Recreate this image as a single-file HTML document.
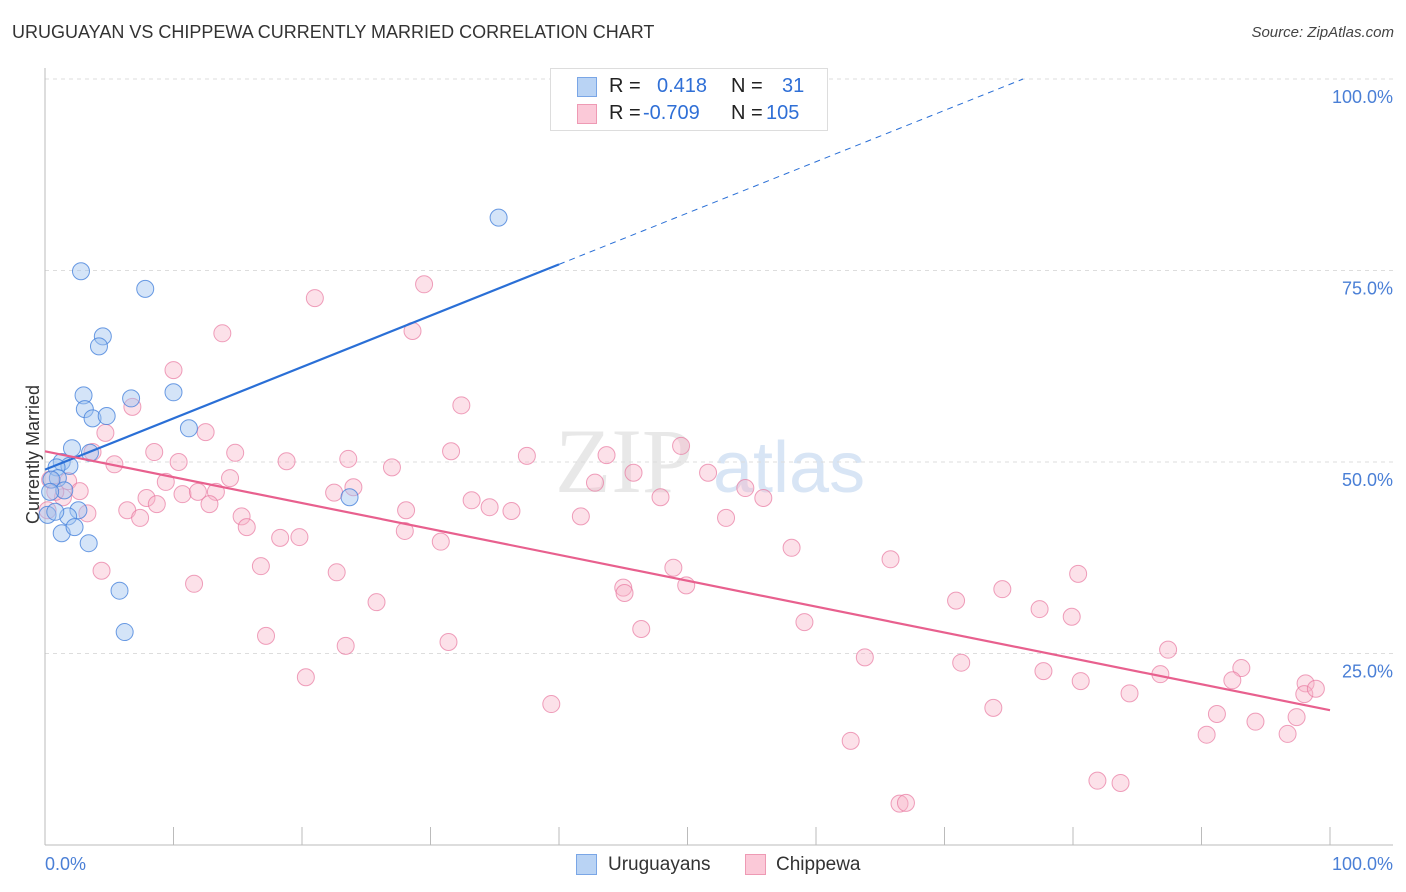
<!DOCTYPE html>
<html><head><meta charset="utf-8"><style>
body{margin:0;background:#fff;font-family:"Liberation Sans",sans-serif;}
#wrap{position:relative;width:1406px;height:892px;overflow:hidden;}
.t{position:absolute;white-space:nowrap;}
</style></head><body>
<div id="wrap">
<div class="t" style="left:12px;top:22px;font-size:18px;color:#333;">URUGUAYAN VS CHIPPEWA CURRENTLY MARRIED CORRELATION CHART</div>
<div class="t" style="right:12px;top:24px;font-size:15px;color:#444;font-style:italic;">Source: ZipAtlas.com</div>
<div class="t" style="left:-36px;top:444px;font-size:18px;color:#333;transform:rotate(-90deg);">Currently Married</div>
<svg id="plot" width="1406" height="892" style="position:absolute;left:0;top:0"></svg>
<div style="position:absolute;left:550px;top:68px;width:276px;height:61px;border:1px solid #ddd;background:#fff;font-size:20px;">
 <div style="position:absolute;left:26px;top:8px;width:18px;height:18px;background:#b9d3f4;border:1px solid #7aa6e6"></div>
 <div class="t" style="left:58px;top:6px;color:#222">R =</div><div class="t" style="left:106px;top:6px;color:#2f6fd6">0.418</div>
 <div class="t" style="left:180px;top:6px;color:#222">N =</div><div class="t" style="left:231px;top:6px;color:#2f6fd6">31</div>
 <div style="position:absolute;left:26px;top:35px;width:18px;height:18px;background:#fbc9d8;border:1px solid #ee9ab4"></div>
 <div class="t" style="left:58px;top:33px;color:#222">R =</div><div class="t" style="left:92px;top:33px;color:#2f6fd6">-0.709</div>
 <div class="t" style="left:180px;top:33px;color:#222">N =</div><div class="t" style="left:215px;top:33px;color:#2f6fd6">105</div>
</div>
<div style="position:absolute;left:576px;top:854px;font-size:19px;color:#333;">
 <div style="position:absolute;left:0;top:0px;width:19px;height:19px;background:#b9d3f4;border:1px solid #7aa6e6"></div>
 <div class="t" style="left:32px;top:0">Uruguayans</div>
 <div style="position:absolute;left:169px;top:0px;width:19px;height:19px;background:#fbc9d8;border:1px solid #ee9ab4"></div>
 <div class="t" style="left:200px;top:0">Chippewa</div>
</div>
</div>
<script>
const blueX=[35.3,2.8,7.8,4.5,4.2,3.0,6.7,10.0,3.1,3.7,4.8,11.2,2.1,3.5,1.3,1.9,0.9,1.0,0.5,1.5,23.7,0.4,2.6,1.8,1.3,2.3,3.4,5.8,6.2,0.2,0.8];
const blueY=[81.9,74.9,72.6,66.4,65.1,58.7,58.3,59.1,56.9,55.7,56.0,54.4,51.8,51.2,50.0,49.5,49.3,47.9,47.7,46.3,45.4,46.1,43.7,42.9,40.7,41.5,39.4,33.2,27.8,43.1,43.5];
const pinkX=[29.5,21.0,13.8,28.6,10.0,32.4,6.8,12.5,4.7,3.7,8.5,14.8,31.6,49.5,23.6,18.8,37.5,43.7,10.4,5.4,27.0,45.8,14.4,51.6,9.4,1.8,42.8,2.7,24.0,54.5,22.5,7.9,10.7,11.9,13.3,47.9,33.2,55.9,8.7,12.8,34.6,6.4,36.3,28.1,15.3,1.4,3.3,7.4,53.0,41.7,15.7,28.0,18.3,19.8,30.8,58.1,4.4,16.8,22.7,48.9,65.8,80.4,11.6,45.0,49.9,45.1,74.5,25.8,70.9,77.4,79.9,59.1,46.4,17.2,23.4,31.4,63.8,87.4,71.3,93.1,77.7,86.8,20.3,80.6,92.4,98.1,84.4,98.0,98.9,39.4,73.8,91.2,97.4,94.2,62.7,90.4,96.7,81.9,83.7,66.5,67.0,0.4,0.8,0.2];
const pinkY=[73.2,71.4,66.8,67.1,62.0,57.4,57.2,53.9,53.8,51.3,51.3,51.2,51.4,52.1,50.4,50.1,50.8,50.9,50.0,49.7,49.3,48.6,47.9,48.6,47.4,47.5,47.3,46.2,46.7,46.6,46.0,45.3,45.8,46.1,46.1,45.4,45.0,45.3,44.5,44.5,44.1,43.7,43.6,43.7,42.9,45.4,43.3,42.7,42.7,42.9,41.5,41.0,40.1,40.2,39.6,38.8,35.8,36.4,35.6,36.2,37.3,35.4,34.1,33.6,33.9,32.9,33.4,31.7,31.9,30.8,29.8,29.1,28.2,27.3,26.0,26.5,24.5,25.5,23.8,23.1,22.7,22.3,21.9,21.4,21.5,21.1,19.8,19.7,20.4,18.4,17.9,17.1,16.7,16.1,13.6,14.4,14.5,8.4,8.1,5.4,5.5,47.7,46.1,43.7];
const yTicks=[25,50,75,100];
const xTicks=[0,10,20,30,40,50,60,70,80,90,100];
const blueLine=[0,49.0,40,75.8,75.8,100];
const pinkLine=[0,51.4,100,17.6];
const NS='http://www.w3.org/2000/svg';
const svg=document.getElementById('plot');
const X=v=>45+v*12.85, Y=v=>845-v*7.66;
function mk(t,a){const e=document.createElementNS(NS,t);for(const k in a)e.setAttribute(k,a[k]);svg.appendChild(e);return e;}
const wm=mk('text',{x:555,y:492,'font-size':92,fill:'#e8e8e8','font-family':'Liberation Serif'});wm.textContent='ZIP';


const wm2=mk('text',{x:713,y:492,'font-size':72,fill:'#d8e5f5','font-family':'Liberation Sans'});wm2.textContent='atlas';


yTicks.forEach(v=>{const g=mk('line',{x1:45,x2:1393,y1:Y(v),y2:Y(v),stroke:'#ddd','stroke-dasharray':'4 4'});


const t=mk('text',{x:1393,y:Y(v)+24,'text-anchor':'end','font-size':18,fill:'#4a7fd6','font-family':'Liberation Sans'});t.textContent=v.toFixed(1)+'%';

});
mk('line',{x1:45,x2:45,y1:68,y2:845,stroke:'#bbb'});
const ax=mk('line',{x1:45,x2:1393,y1:845,y2:845,stroke:'#bbb'});


xTicks.forEach(v=>{const k=mk('line',{x1:X(v),x2:X(v),y1:827,y2:845,stroke:'#bbb'});

});
[[0,'start','0.0%'],[100,'end','100.0%']].forEach(([v,a,s])=>{const t=mk('text',{x:X(v)+(v?63:0),y:870,'text-anchor':a,'font-size':18,fill:'#4a7fd6','font-family':'Liberation Sans'});t.textContent=s;

});
pinkX.forEach((x,i)=>{const c=mk('circle',{cx:X(x),cy:Y(pinkY[i]),r:8.5,fill:'rgba(248,180,200,0.4)',stroke:'rgba(232,120,160,0.7)','stroke-width':1});

});
blueX.forEach((x,i)=>{const c=mk('circle',{cx:X(x),cy:Y(blueY[i]),r:8.5,fill:'rgba(160,195,240,0.45)',stroke:'rgba(70,130,220,0.8)','stroke-width':1});

});
const bl=mk('line',{x1:X(blueLine[0]),y1:Y(blueLine[1]),x2:X(blueLine[2]),y2:Y(blueLine[3]),stroke:'#2a6fd6','stroke-width':2.2});


const bd=mk('line',{x1:X(blueLine[2]),y1:Y(blueLine[3]),x2:X(blueLine[4]),y2:Y(blueLine[5]),stroke:'#2a6fd6','stroke-width':1,'stroke-dasharray':'6 5'});
const x100=blueLine[2]+(blueLine[5]-blueLine[3])*(blueLine[2]-blueLine[0])/(blueLine[3]-blueLine[1]);
bd.setAttribute('x2',X(x100));


const pl=mk('line',{x1:X(pinkLine[0]),y1:Y(pinkLine[1]),x2:X(pinkLine[2]),y2:Y(pinkLine[3]),stroke:'#e8608e','stroke-width':2.2});


</script>
</body></html>
